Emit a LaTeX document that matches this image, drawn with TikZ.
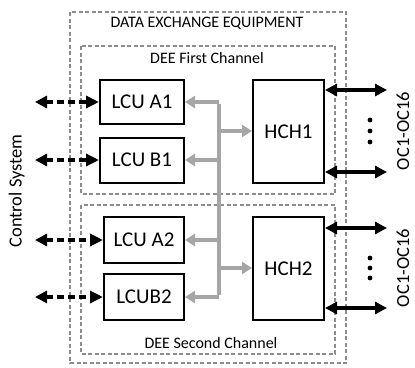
\documentclass[tikz,border=0pt]{standalone}
\usepackage{fontspec}
\setmainfont{Carlito}
\usetikzlibrary{arrows.meta}
\begin{document}
\begin{tikzpicture}[x=1pt,y=-1pt,
  box/.style={draw=black,line width=2pt,fill=white,inner sep=0pt,font=\fontsize{21}{24}\selectfont},
  group/.style={draw=black!45,line width=1.5pt,dash pattern=on 4pt off 2.5pt},
  grayline/.style={draw=black!35,line width=4.5pt},
  grayarrow/.style={draw=black!35,line width=4.5pt,-{Triangle[length=10pt,width=12pt]}},
  blkarrow/.style={draw=black,line width=3.4pt,{Triangle[length=12pt,width=12pt]}-{Triangle[length=12pt,width=12pt]}},
  dasharrow/.style={draw=black,line width=3.4pt,dash pattern=on 7pt off 4pt,{Triangle[length=12pt,width=12pt]}-{Triangle[length=13pt,width=12pt]}},
  lbl/.style={inner sep=0pt,font=\fontsize{16}{19}\selectfont},
  side/.style={inner sep=0pt,rotate=90,text height=12pt,text depth=0pt,font=\fontsize{18.5}{22}\selectfont}]
\useasboundingbox (0,0) rectangle (415,367);
% groups
\draw[group] (70,12) rectangle (346,363);
\draw[group] (81,46) rectangle (335,194);
\draw[group] (81,205) rectangle (335,354);
\node[lbl] (title) at (207,23) {DATA EXCHANGE EQUIPMENT};
\node[lbl] (first) at (207,58) {DEE First Channel};
\node[lbl] (second) at (211,343) {DEE Second Channel};
% boxes
\node[box,minimum width=84pt,minimum height=44pt] (a1) at (142,102) {LCU A1};
\node[box,minimum width=84pt,minimum height=45pt] (b1) at (142,160) {LCU B1};
\node[box,minimum width=80pt,minimum height=46pt] (a2) at (144,240) {LCU A2};
\node[box,minimum width=80pt,minimum height=46pt] (b2) at (144,297) {LCUB2};
\node[box,minimum width=71pt,minimum height=103pt] (h1) at (288.5,131.5) {HCH1};
\node[box,minimum width=71pt,minimum height=103pt] (h2) at (288.5,268.5) {HCH2};
% gray bus
\coordinate (bA1) at (219,102);
\coordinate (bB1) at (219,160);
\coordinate (bA2) at (219,240);
\coordinate (bB2) at (219,297);
\coordinate (bH1) at (219,131);
\coordinate (bH2) at (219,268);
\draw[grayline] ([yshift=-2.25pt]bA1) -- ([yshift=2.25pt]bB2);
\draw[grayarrow] (bA1) -- (a1.east);
\draw[grayarrow] (bB1) -- (b1.east);
\draw[grayarrow] (bA2) -- (a2.east);
\draw[grayarrow] (bB2) -- (b2.east);
\draw[grayarrow] (bH1) -- (bH1 -| h1.west);
\draw[grayarrow] (bH2) -- (bH2 -| h2.west);
% left dashed arrows
\coordinate (cA1) at (35,102);
\coordinate (cB1) at (35,160);
\coordinate (cA2) at (35,240);
\coordinate (cB2) at (35,297);
\draw[dasharrow] (cA1) -- (a1.west);
\draw[dasharrow] (cB1) -- (b1.west);
\draw[dasharrow] (cA2) -- (a2.west);
\draw[dasharrow] (cB2) -- (b2.west);
% right arrows
\coordinate (o1) at (387,90);
\coordinate (o2) at (387,172);
\coordinate (o3) at (387,228);
\coordinate (o4) at (387,308);
\draw[blkarrow] (o1 -| h1.east) -- (o1);
\draw[blkarrow] (o2 -| h1.east) -- (o2);
\draw[blkarrow] (o3 -| h2.east) -- (o3);
\draw[blkarrow] (o4 -| h2.east) -- (o4);
% dots
\foreach \y in {120,131,142,258,268,278} \fill (370,\y) circle (2.4pt);
% side labels
\node[side] (cs) at (15.5,191) {Control System};
\node[side] (oc1) at (403,131) {OC1-OC16};
\node[side] (oc2) at (403,268) {OC1-OC16};
\end{tikzpicture}
\end{document}
